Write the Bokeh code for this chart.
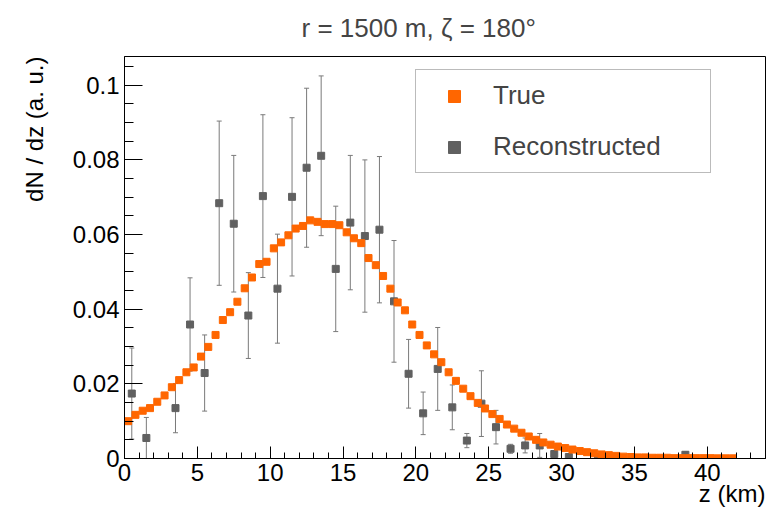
import numpy as np
from bokeh.plotting import figure
from bokeh.models import (ColumnDataSource, Whisker, TeeHead, Legend, LegendItem,
                          SingleIntervalTicker, CustomJSTickFormatter, Range1d, Title)
from bokeh.embed import file_html
from bokeh.resources import INLINE

TITLE = "r = 1500 m, \u03b6 = 180\u00b0"
X_LABEL = "z (km)"
Y_LABEL = "dN / dz (a. u.)"
SERIES_NAMES = ["True", "Reconstructed"]

# True distribution: bin centres every 0.5 km
true_z = np.arange(0.25, 42.0, 0.5)
true_vals = [
    0.0100, 0.0117, 0.0128, 0.0135, 0.0152, 0.0169, 0.0191, 0.0210, 0.0231, 0.0244,
    0.0273, 0.0299, 0.0331, 0.0371, 0.0392, 0.0420, 0.0456, 0.0485, 0.0521, 0.0527,
    0.0563, 0.0579, 0.0598, 0.0616, 0.0623, 0.0638, 0.0634, 0.0628, 0.0628, 0.0625,
    0.0606, 0.0590, 0.0577, 0.0537, 0.0518, 0.0489, 0.0455, 0.0418, 0.0397, 0.0359,
    0.0331, 0.0303, 0.0279, 0.0258, 0.0231, 0.0208, 0.0187, 0.0167, 0.0149, 0.0134,
    0.0119, 0.0106, 0.0091, 0.0080, 0.0069, 0.0059, 0.0050, 0.0043, 0.0037, 0.0032,
    0.0028, 0.0024, 0.0020, 0.0017, 0.0014, 0.0011, 0.0009, 0.0007, 0.0005, 0.0004,
    0.0003, 0.0003, 0.0002, 0.0002, 0.0002, 0.0001, 0.0001, 0.0001, 0.0001, 0.0001,
    0.0001, 0.00005, 0.00005, 0.00005,
]

# Reconstructed distribution: bin centres every 1 km (empty bins omitted)
reco_z = [0.5, 1.5, 3.5, 4.5, 5.5, 6.5, 7.5, 8.5, 9.5, 10.5, 11.5, 12.5, 13.5, 14.5,
          15.5, 16.5, 17.5, 18.5, 19.5, 20.5, 21.5, 22.5, 23.5, 24.5, 25.5, 26.5,
          27.5, 28.5, 29.5, 30.5, 32.5, 38.5]
reco_vals = [0.0174, 0.0055, 0.0135, 0.0359, 0.0229, 0.0684, 0.0629, 0.0383, 0.0703,
             0.0455, 0.0701, 0.0779, 0.0811, 0.0508, 0.0632, 0.0596, 0.0613, 0.0421,
             0.0227, 0.0121, 0.0240, 0.0137, 0.0048, 0.0147, 0.0084, 0.0026, 0.0035,
             0.0035, 0.0012, 0.0004, 0.0004, 0.0010]
reco_errs = [0.0122, 0.0055, 0.0066, 0.0125, 0.0102, 0.0220, 0.0183, 0.0115, 0.0218,
             0.0146, 0.0212, 0.0213, 0.0214, 0.0168, 0.0180, 0.0204, 0.0196, 0.0163,
             0.0092, 0.0057, 0.0111, 0.0060, 0.0019, 0.0088, 0.0045, 0.0012, 0.0020,
             0.0032, 0.0008, 0.0004, 0.0004, 0.0008]

ORANGE = "#ff6600"
GRAY = "#606060"
FONT = "Liberation Sans"

src_true = ColumnDataSource(dict(z=list(true_z), v=true_vals))
rv = np.array(reco_vals)
re_ = np.array(reco_errs)
src_reco = ColumnDataSource(dict(z=reco_z, v=reco_vals,
                                 upper=list(rv + re_),
                                 lower=list(np.clip(rv - re_, 0, None))))

p = figure(width=766, height=508, output_backend="svg", toolbar_location=None,
           x_range=Range1d(0, 44), y_range=Range1d(0, 0.1077),
           min_border_left=121, min_border_right=1, min_border_top=56,
           min_border_bottom=50)

p.background_fill_color = "white"
p.border_fill_color = "white"
p.outline_line_color = "black"
p.outline_line_width = 1
p.xgrid.visible = False
p.ygrid.visible = False

p.title.text = TITLE
p.title.text_font = FONT
p.title.text_font_size = "26px"
p.title.text_font_style = "normal"
p.title.align = "left"
p.title.offset = 177
p.title.vertical_align = "top"
p.title.standoff = 24

# axes
p.xaxis.ticker = SingleIntervalTicker(interval=5, num_minor_ticks=5)
p.yaxis.ticker = SingleIntervalTicker(interval=0.02, num_minor_ticks=4)
p.yaxis.formatter = CustomJSTickFormatter(code="""
var s = tick.toFixed(2);
s = s.replace(/0+$/, '');
s = s.replace(/\\.$/, '');
return s;
""")
for ax in (p.xaxis[0], p.yaxis[0]):
    ax.major_label_text_font = FONT
    ax.major_label_text_font_size = "24px"
    ax.major_label_text_color = "black"
    ax.axis_line_color = "black"
    ax.major_tick_line_color = "black"
    ax.minor_tick_line_color = "black"
    ax.major_tick_out = 0
    ax.minor_tick_out = 0
    ax.major_label_standoff = 5

p.xaxis.major_tick_in = 12
p.xaxis.minor_tick_in = 6
p.yaxis.major_tick_in = 18
p.yaxis.minor_tick_in = 9

# axis titles, aligned to the far end of each axis
x_title = Title(text=X_LABEL, align="right", vertical_align="top", text_font=FONT,
                text_font_size="24px", text_font_style="normal", text_color="black",
                standoff=-8)
y_title = Title(text=Y_LABEL, align="right", vertical_align="top", text_font=FONT,
                text_font_size="24px", text_font_style="normal", text_color="black",
                standoff=40)
p.add_layout(x_title, "below")
p.add_layout(y_title, "left")

# reconstructed error bars and markers
whisk = Whisker(base="z", upper="upper", lower="lower", source=src_reco,
                dimension="height", line_color="#7a7a7a", line_width=1,
                upper_head=TeeHead(size=5, line_color="#7a7a7a", line_width=1),
                lower_head=TeeHead(size=5, line_color="#7a7a7a", line_width=1))
p.add_layout(whisk)
r_reco = p.scatter("z", "v", source=src_reco, marker="square", size=7,
                   fill_color=GRAY, line_color=GRAY)
r_true = p.scatter("z", "v", source=src_true, marker="square", size=7,
                   fill_color=ORANGE, line_color=ORANGE)

legend = Legend(items=[LegendItem(label=SERIES_NAMES[0], renderers=[r_true]),
                       LegendItem(label=SERIES_NAMES[1], renderers=[r_reco])],
                location=(291, 285), orientation="vertical",
                label_text_font=FONT, label_text_font_size="26px",
                glyph_width=56, glyph_height=30, label_height=30,
                label_width=207, label_standoff=11, padding=10, spacing=20,
                margin=0, border_line_color="#777777", border_line_width=1,
                background_fill_color="white", background_fill_alpha=1.0)
p.add_layout(legend)

open("out.html", "w").write(file_html(p, INLINE))
